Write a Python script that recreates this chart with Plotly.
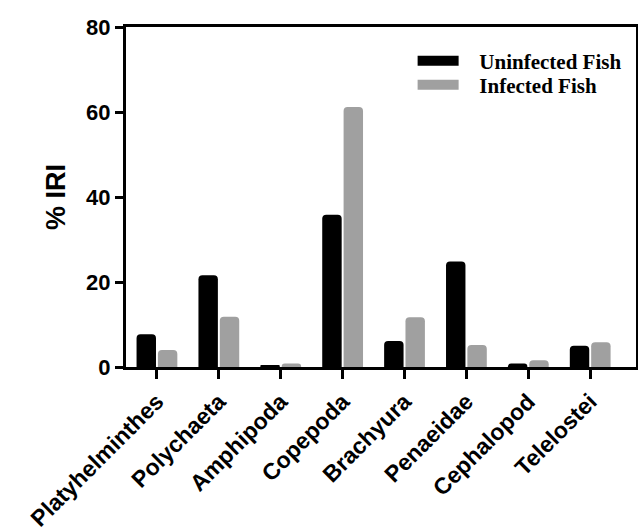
import plotly.graph_objects as go

categories = ["Platyhelminthes", "Polychaeta", "Amphipoda", "Copepoda",
              "Brachyura", "Penaeidae", "Cephalopod", "Telelostei"]
uninfected = [7.7, 21.6, 0.4, 35.8, 6.1, 24.8, 0.8, 5.0]
infected = [4.0, 11.8, 0.8, 61.2, 11.7, 5.2, 1.6, 5.8]
series_names = ["Uninfected Fish", "Infected Fish"]
series_colors = ["#000000", "#a0a0a0"]
y_ticks = [0, 20, 40, 60, 80]

sans = "Liberation Sans, Arial, sans-serif"
serif = "Liberation Serif, Times New Roman, serif"
pad = "\u00a0\u00a0\u00a0"

fig = go.Figure()
legend_ids = ["legend", "legend2"]
for name, vals, col, lg in zip(series_names, [uninfected, infected], series_colors, legend_ids):
    fig.add_trace(go.Bar(x=categories, y=vals, name=name, marker_color=col,
                         marker_line_width=0, showlegend=False))
    fig.add_trace(go.Scatter(x=[None], y=[None], mode="lines", name=pad + name,
                             line=dict(color=col, width=15), showlegend=True,
                             legend=lg))

legend_style = dict(xanchor="left", yanchor="middle",
                    font=dict(family=serif, size=21, color="black", weight="bold"),
                    bgcolor="rgba(0,0,0,0)", itemwidth=41)

fig.update_layout(
    width=638, height=532,
    margin=dict(l=126, r=2, t=27, b=165),
    plot_bgcolor="white", paper_bgcolor="white",
    barmode="group", bargap=0.31, bargroupgap=0.09, barcornerradius=4,
    font=dict(family=sans, size=21, color="black", weight="bold"),
    legend=dict(x=0.562, y=0.9, **legend_style),
    legend2=dict(x=0.562, y=0.829, **legend_style),
    xaxis=dict(range=[-0.5, 7.74], showline=True, linecolor="black", linewidth=3,
               mirror=True, ticks="outside", ticklen=9, tickwidth=3,
               tickcolor="black", tickangle=-45, showgrid=False, automargin=False,
               tickfont=dict(family=sans, size=23, weight="bold")),
    yaxis=dict(range=[0, 80], tickvals=y_ticks, showline=True, linecolor="black",
               linewidth=3, mirror=True, ticks="outside", ticklen=8, tickwidth=3,
               tickcolor="black", showgrid=False, zeroline=False, automargin=False,
               tickfont=dict(family=sans, size=22, weight="bold"),
               title=dict(text="% IRI", font=dict(family=sans, size=27, weight="bold"),
                          standoff=13)),
)

fig.write_html("out.html")
